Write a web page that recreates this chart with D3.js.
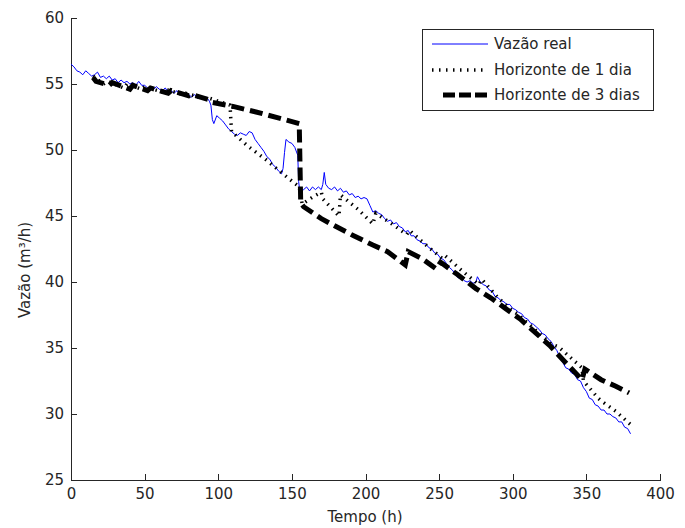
<!DOCTYPE html>
<html lang="pt">
<head>
  <meta charset="UTF-8">
  <title>Vazão real e horizontes de previsão</title>
  <script src="https://d3js.org/d3.v7.min.js"></script>
  <style>
    body { margin: 0; background: #fff; }
    svg { display: block; background: #fff; }
    text { font-family: "DejaVu Sans", sans-serif; fill: #262626; }
    .axis path, .axis line { stroke: #262626; stroke-width: 1px; shape-rendering: crispEdges; }
    .axis text { font-size: 15px; }
  </style>
</head>
<body>
  <svg width="685" height="528"></svg>

  <script>
    // tick labels
    const xTicks = [0, 50, 100, 150, 200, 250, 300, 350, 400];
    const yTicks = [25, 30, 35, 40, 45, 50, 55, 60];

    // Vazão real [t (h), m³/h]
    const real = [
      [0,56.5],[2,56.3],[4,56.0],[6,55.9],[8,55.7],[10,56.0],[12,55.8],[14,55.6],[16,55.7],[18,55.9],
      [20,55.5],[22,55.6],[24,55.4],[26,55.6],[28,55.3],[30,55.4],[32,55.1],[34,55.3],[36,55.1],[38,55.2],
      [40,55.0],[42,55.1],[44,54.9],[46,55.2],[48,54.9],[50,54.9],[52,54.7],[54,54.8],[56,54.6],[58,54.8],
      [60,54.6],[62,54.5],[64,54.7],[66,54.4],[68,54.5],[70,54.3],[72,54.5],[74,54.2],[76,54.3],[78,54.1],
      [80,54.2],[82,54.0],[84,54.2],[86,53.9],[88,54.0],[90,53.9],[92,54.0],[94,53.7],[95,53.4],[96,52.3],
      [97,52.0],[99,52.6],[101,52.4],[103,52.2],[105,51.9],[107,51.6],[109,51.4],[111,51.2],[113,51.1],[115,51.3],
      [117,51.2],[119,51.1],[121,51.4],[123,51.3],[125,50.8],[127,50.5],[129,50.2],[131,49.9],[133,49.5],[135,49.3],
      [137,48.9],[139,48.7],[141,48.4],[143,48.2],[144,48.6],[145,49.8],[146,50.8],[148,50.6],[150,50.5],[152,50.2],
      [154,49.6],[154.6,47.6],[155.5,46.8],[158,47.0],[160,47.2],[162,46.9],[164,47.2],[166,47.0],[168,47.2],[170,47.0],
      [171,47.4],[172,48.3],[173,47.4],[175,47.1],[177,47.0],[179,47.2],[181,46.9],[183,47.1],[185,46.8],[187,46.9],
      [189,46.6],[191,46.7],[193,46.4],[195,46.5],[197,46.3],[199,46.4],[201,46.3],[203,45.8],[205,45.3],[207,45.4],
      [209,45.2],[211,45.1],[213,44.8],[215,44.6],[217,44.7],[219,44.4],[221,44.5],[223,44.2],[225,44.1],[227,43.8],
      [229,43.9],[231,43.5],[233,43.5],[235,43.2],[237,43.1],[239,42.9],[241,42.9],[243,42.6],[245,42.5],[247,42.2],
      [249,42.1],[251,41.8],[253,41.7],[255,41.4],[257,41.1],[259,40.9],[261,40.6],[263,40.3],[265,40.4],[267,40.1],
      [269,40.0],[271,40.1],[273,39.9],[275,40.0],[276,40.4],[278,40.0],[280,39.8],[282,39.7],[284,39.4],[286,39.3],
      [288,38.9],[290,38.8],[292,38.6],[294,38.5],[296,38.3],[298,38.3],[300,38.0],[302,37.9],[304,37.7],[306,37.6],
      [308,37.3],[310,37.2],[312,36.9],[314,36.8],[316,36.6],[318,36.4],[320,36.1],[322,36.0],[324,35.7],[326,35.5],
      [328,35.1],[330,34.8],[332,34.3],[334,33.9],[336,33.5],[338,33.4],[340,33.1],[342,33.0],[344,32.6],[346,32.5],
      [348,32.0],[350,31.7],[352,31.2],[354,31.1],[356,30.7],[358,30.6],[360,30.3],[362,30.3],[364,30.0],[366,30.0],
      [368,29.8],[370,29.7],[372,29.4],[374,29.4],[376,29.0],[378,28.9],[380,28.5]
    ];

    // Horizonte de 1 dia
    const h1 = [
      [15,55.6],[22,55.0],[25,55.2],[36,54.7],[38,55.0],[48,54.6],[50,54.8],[62,54.4],[64,54.6],[76,54.2],
      [78,54.3],[90,53.9],[92,54.0],[100,53.7],[108,53.4],[109,51.4],[120,50.3],[132,49.3],[145,48.1],[155,47.2],
      [157,45.9],[165,46.5],[170,46.8],[171,46.3],[182,45.0],[183,46.6],[195,45.5],[205,44.4],[207,45.2],[218,44.4],
      [228,43.6],[230,43.9],[240,42.9],[252,41.8],[254,42.0],[265,40.9],[277,39.8],[279,40.2],[290,38.8],[300,37.8],
      [303,37.6],[315,36.4],[326,35.3],[331,35.1],[347,33.5],[348,32.5],[358,31.2],[360,31.0],[370,30.2],[372,30.0],
      [380,29.2]
    ];

    // Horizonte de 3 dias
    const h3 = [
      [15,55.5],[17,55.2],[26,54.9],[28,55.1],[40,54.6],[42,54.9],[52,54.5],[54,54.7],[66,54.3],[68,54.5],
      [80,54.1],[82,54.2],[94,53.8],[96,53.6],[110,53.3],[125,52.9],[142,52.4],[155,52.0],[156,46.0],[158,45.7],
      [170,44.8],[180,44.2],[192,43.5],[205,42.8],[215,42.3],[227,41.3],[229,42.3],[238,41.8],[248,41.0],[251,41.5],
      [262,40.6],[275,39.5],[285,38.8],[295,38.0],[305,37.2],[315,36.2],[325,35.2],[335,34.0],[347,32.6],[349,33.4],
      [360,32.6],[370,32.1],[379,31.6]
    ];

    const svg = d3.select('svg');
    const x = d3.scaleLinear().domain([0, 400]).range([71, 660]);
    const y = d3.scaleLinear().domain([25, 60]).range([480, 18]);

    const line = d3.line().x(d => x(d[0])).y(d => y(d[1]));

    // eixos (ticks para dentro, sem caixa)
    svg.append('g').attr('class', 'axis')
      .attr('transform', 'translate(0,480)')
      .call(d3.axisBottom(x).tickValues(xTicks).tickSizeInner(-6).tickSizeOuter(0).tickPadding(6))
      .call(g => g.selectAll('text').attr('dy', '0.85em'));

    svg.append('g').attr('class', 'axis')
      .attr('transform', 'translate(71,0)')
      .call(d3.axisLeft(y).tickValues(yTicks).tickSizeInner(-6).tickSizeOuter(0).tickPadding(7));

    // séries
    svg.append('path').datum(real)
      .attr('fill', 'none').attr('stroke', '#0000ff').attr('stroke-width', 1)
      .attr('d', line);

    svg.append('path').datum(h1)
      .attr('fill', 'none').attr('stroke', '#000').attr('stroke-width', 3.5)
      .attr('stroke-dasharray', '1.5 5')
      .attr('d', line);

    svg.append('path').datum(h3)
      .attr('fill', 'none').attr('stroke', '#000').attr('stroke-width', 5)
      .attr('stroke-dasharray', '13 6')
      .attr('d', line);

    // rótulos dos eixos
    svg.append('text')
      .attr('x', 365).attr('y', 522)
      .attr('text-anchor', 'middle').attr('font-size', 15)
      .text('Tempo (h)');

    svg.append('text')
      .attr('transform', 'translate(30,270) rotate(-90)')
      .attr('text-anchor', 'middle').attr('font-size', 15)
      .text('Vazão (m³/h)');

    // legenda
    const legend = svg.append('g');
    legend.append('rect')
      .attr('x', 422.5).attr('y', 29.5).attr('width', 231).attr('height', 81)
      .attr('fill', '#fff').attr('stroke', '#262626').attr('stroke-width', 1);

    const entries = [
      { label: 'Vazão real', y: 44, x1: 432, stroke: '#0000ff', w: 1, dash: null },
      { label: 'Horizonte de 1 dia', y: 70, x1: 432, stroke: '#000', w: 3.5, dash: '1.5 5.5' },
      { label: 'Horizonte de 3 dias', y: 95, x1: 443, stroke: '#000', w: 5, dash: '12 4' }
    ];
    entries.forEach(e => {
      legend.append('line')
        .attr('x1', e.x1).attr('x2', 488).attr('y1', e.y).attr('y2', e.y)
        .attr('stroke', e.stroke).attr('stroke-width', e.w)
        .attr('stroke-dasharray', e.dash);
      legend.append('text')
        .attr('x', 494).attr('y', e.y).attr('dy', '0.35em')
        .attr('font-size', 15)
        .text(e.label);
    });
  </script>
</body>
</html>
